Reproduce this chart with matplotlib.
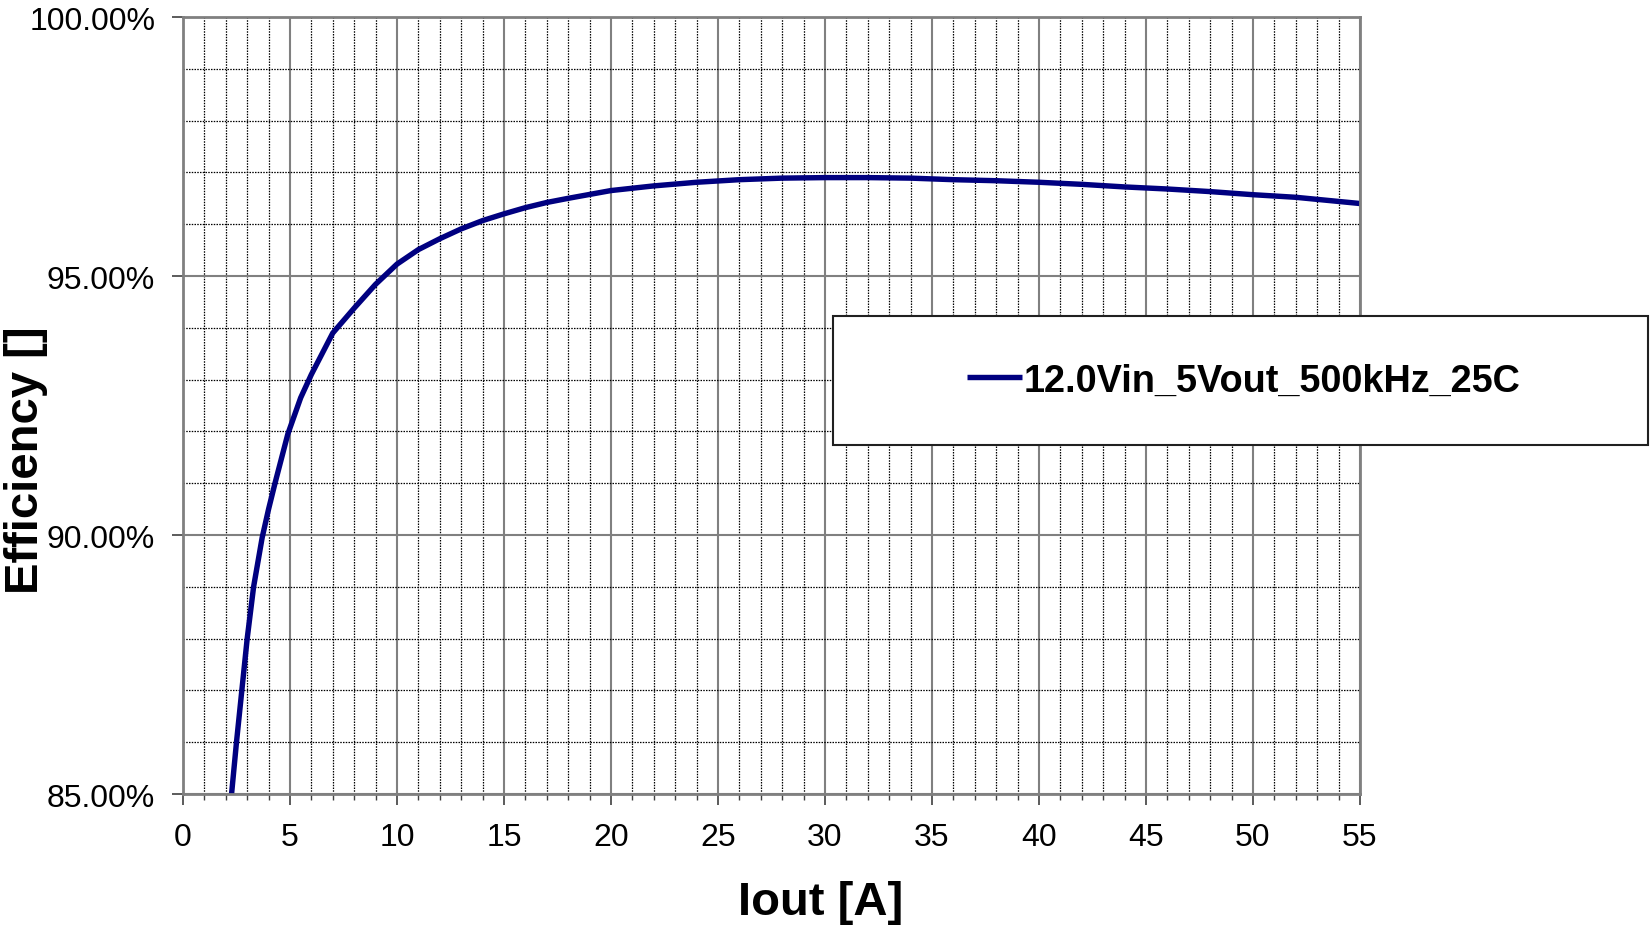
import matplotlib
matplotlib.use("Agg")
import matplotlib.pyplot as plt
from matplotlib.patches import Rectangle
from matplotlib.ticker import MultipleLocator, FuncFormatter

plt.rcParams['font.family'] = ['Liberation Sans', 'DejaVu Sans']

# load current [A] vs efficiency [%]
iout = [2.27, 2.5, 2.75, 3.0, 3.3, 3.7, 4.0, 4.3, 4.9, 5.5, 6.0, 6.5, 7.0, 8.0, 9.0,
        10.0, 11.0, 12.0, 13.0, 14.0, 15.0, 16.0, 17.0, 18.0, 20.0, 22.0, 24.0, 26.0,
        28.0, 30.0, 32.0, 34.0, 36.0, 38.0, 40.0, 42.0, 44.0, 46.0, 48.0, 50.0, 52.0, 55.0]
eff = [85.0, 86.0, 87.0, 88.0, 89.0, 89.95, 90.5, 91.0, 91.95, 92.65, 93.1, 93.5, 93.9,
       94.38, 94.84, 95.23, 95.51, 95.72, 95.91, 96.07, 96.2, 96.32, 96.42, 96.5, 96.65,
       96.74, 96.81, 96.86, 96.89, 96.9, 96.9, 96.89, 96.86, 96.84, 96.81, 96.77, 96.72,
       96.68, 96.63, 96.57, 96.52, 96.4]
series_name = '12.0Vin_5Vout_500kHz_25C'

fig = plt.figure(figsize=(16.5, 9.29), dpi=100)
ax = fig.add_axes([0.1109, 0.1442, 0.7133, 0.8364])

line, = ax.plot(iout, eff, color='#000080', lw=3.9, solid_capstyle='butt',
                solid_joinstyle='round')

ax.set_xlim(0, 55)
ax.set_ylim(85, 100)
ax.xaxis.set_major_locator(MultipleLocator(5))
ax.xaxis.set_minor_locator(MultipleLocator(1))
ax.yaxis.set_major_locator(MultipleLocator(5))
ax.yaxis.set_minor_locator(MultipleLocator(1))
ax.yaxis.set_major_formatter(FuncFormatter(lambda v, p: '%.2f%%' % v))

ax.grid(which='major', color='#808080', lw=1.5, ls='-')
ax.grid(which='minor', color='black', lw=0.9, ls=(0, (1.2, 1.0)))
ax.set_axisbelow(True)

for s in ax.spines.values():
    s.set_color('#808080')
    s.set_linewidth(2)

ax.tick_params(axis='both', which='major', labelsize=23, length=8, width=1.2,
               color='#404040', pad=12)
ax.tick_params(axis='x', which='minor', length=4, width=1, color='#404040')
ax.tick_params(axis='y', which='minor', length=0)

fig.text(0.0158, 0.505, 'Efficiency []', rotation=90, fontsize=34,
         fontweight='bold', ha='center', va='center')
fig.text(0.4976, 0.028, 'Iout [A]', fontsize=34, fontweight='bold',
         ha='center', va='center')

# legend box
fig.patches.append(Rectangle((833 / 1650, 1 - 446 / 929), (1648 - 833) / 1650,
                             (446 - 317) / 929, transform=fig.transFigure,
                             facecolor='white', edgecolor='#202020', lw=1.5,
                             zorder=5))
leg = fig.legend([line], [series_name], loc='center',
                 bbox_to_anchor=(1244 / 1650, 1 - 381.5 / 929),
                 frameon=False, handlelength=1.45, handletextpad=0.05,
                 prop={'weight': 'bold', 'size': 27.3})
leg.set_zorder(6)

fig.savefig('out.png', dpi=100)
